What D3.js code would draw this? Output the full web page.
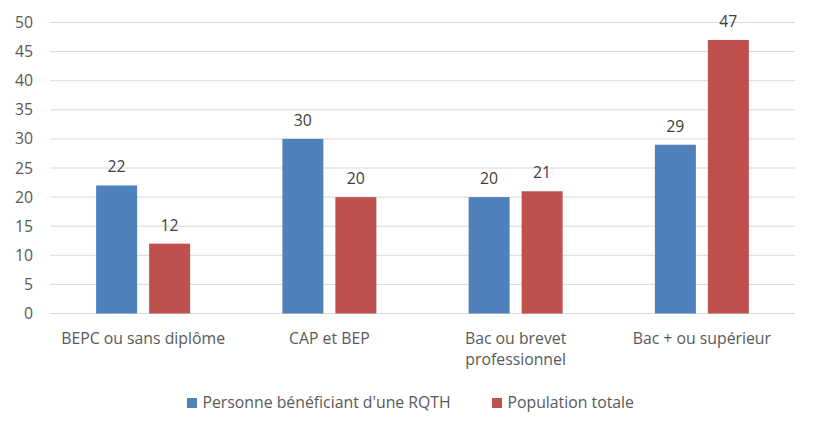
<!DOCTYPE html>
<html>
<head>
<meta charset="utf-8">
<script src="https://cdn.jsdelivr.net/npm/d3@7"></script>
<style>
  body { margin: 0; background: #fff; }
  svg text { font-family: "Open Sans", "Noto Sans", sans-serif; }
</style>
</head>
<body>
<div id="chart"></div>
<script>
// Chart data
const categories = ["BEPC ou sans diplôme", "CAP et BEP", "Bac ou brevet\nprofessionnel", "Bac + ou supérieur"];
const seriesNames = ["Personne bénéficiant d'une RQTH", "Population totale"];
const rqthValues = [22, 30, 20, 29];
const totalValues = [12, 20, 21, 47];
const yTicks = [0, 5, 10, 15, 20, 25, 30, 35, 40, 45, 50];
const colors = ["#4F81BD", "#C0504D"];

const width = 818, height = 433;
const margin = { top: 22.5, right: 23, bottom: 119.5, left: 50 };
const fontSize = '15.8px';

const svg = d3.select('#chart')
    .append('svg')
    .attr('width', width)
    .attr('height', height);

const x0 = d3.scaleBand()
    .domain(categories)
    .range([margin.left, width - margin.right]);

// two bars of 41px with a 12px gap, centred in each category
const x1 = d3.scaleBand()
    .domain([0, 1])
    .range([x0.bandwidth() / 2 - 47, x0.bandwidth() / 2 + 47])
    .paddingInner(12 / 53);

const y = d3.scaleLinear()
    .domain([0, 50])
    .range([height - margin.bottom, margin.top]);

// gridlines
svg.append('g')
    .selectAll('line')
    .data(yTicks)
    .enter()
    .append('line')
    .attr('x1', margin.left)
    .attr('x2', width - margin.right)
    .attr('y1', d => y(d))
    .attr('y2', d => y(d))
    .attr('stroke', '#d9d9d9')
    .attr('stroke-width', 1);

// y axis labels
const yAxis = d3.axisLeft(y).tickValues(yTicks).tickSize(0).tickPadding(17);
const yg = svg.append('g')
    .attr('transform', `translate(${margin.left},0)`)
    .call(yAxis);
yg.select('.domain').remove();
yg.selectAll('text')
    .attr('fill', '#595959')
    .style('font-size', fontSize);

// bars
const data = categories.map((c, i) => ({ cat: c, vals: [rqthValues[i], totalValues[i]] }));

const groups = svg.append('g')
    .selectAll('g')
    .data(data)
    .enter()
    .append('g')
    .attr('transform', d => `translate(${x0(d.cat)},0)`);

groups.selectAll('rect')
    .data(d => d.vals.map((v, s) => ({ v, s })))
    .enter()
    .append('rect')
    .attr('x', d => x1(d.s))
    .attr('width', x1.bandwidth())
    .attr('y', d => y(d.v))
    .attr('height', d => y(0) - y(d.v))
    .attr('fill', d => colors[d.s]);

groups.selectAll('text.val')
    .data(d => d.vals.map((v, s) => ({ v, s })))
    .enter()
    .append('text')
    .attr('class', 'val')
    .attr('x', d => x1(d.s) + x1.bandwidth() / 2)
    .attr('y', d => y(d.v) - 13)
    .attr('text-anchor', 'middle')
    .attr('fill', '#404040')
    .style('font-size', fontSize)
    .text(d => d.v);

// category labels
const catLabels = svg.append('g')
    .selectAll('text')
    .data(categories)
    .enter()
    .append('text')
    .attr('x', d => x0(d) + x0.bandwidth() / 2)
    .attr('y', y(0) + 30.5)
    .attr('text-anchor', 'middle')
    .attr('fill', '#595959')
    .style('font-size', fontSize);

catLabels.selectAll('tspan')
    .data(d => d.split('\n'))
    .enter()
    .append('tspan')
    .attr('x', function () { return d3.select(this.parentNode).attr('x'); })
    .attr('dy', (d, i) => i === 0 ? 0 : 21)
    .text(d => d);

// legend
const legendX = [187, 492];
const legend = svg.append('g')
    .selectAll('g')
    .data(seriesNames)
    .enter()
    .append('g')
    .attr('transform', (d, i) => `translate(${legendX[i]},398)`);

legend.append('rect')
    .attr('width', 10)
    .attr('height', 10)
    .attr('fill', (d, i) => colors[i]);

legend.append('text')
    .attr('x', 15.5)
    .attr('y', 10)
    .attr('fill', '#595959')
    .style('font-size', fontSize)
    .text(d => d);
</script>
</body>
</html>
